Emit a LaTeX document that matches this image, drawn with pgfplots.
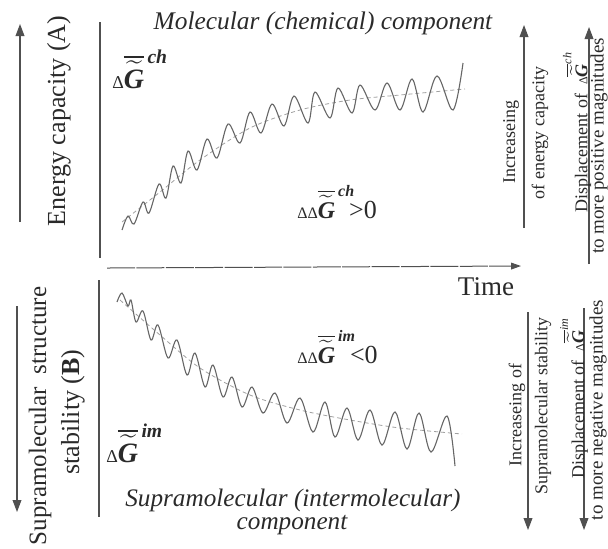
\documentclass[border=0pt]{standalone}
\usepackage{amsmath}
\usepackage{fontspec}
\setmainfont{Liberation Serif}
\usepackage{pgfplots}
\pgfplotsset{compat=1.18}
\usetikzlibrary{arrows.meta}
\definecolor{ink}{HTML}{2A2A2A}
\definecolor{crv}{HTML}{666666}
\definecolor{dsh}{HTML}{A0A0A0}
\definecolor{lin}{HTML}{505050}
\newcommand{\Gt}{\overline{\widetilde{\text{\bfseries\itshape G}}}}
\newcommand{\fs}[1]{\fontsize{#1}{#1}\selectfont}
\tikzset{arr/.style={lin, line width=0.55pt, -{Triangle[length=6pt,width=4.4pt]}}}
\begin{document}
\begin{tikzpicture}
\begin{axis}[name=ax, scale only axis, width=304pt, height=274pt,
  xmin=0, xmax=608, ymin=0, ymax=548, y dir=reverse, hide axis, clip=false]
% frame lines
\addplot[lin, line width=0.55pt] coordinates {(100,22) (100,258)};
\addplot[lin, line width=0.55pt] coordinates {(99,280) (99,517)};
\addplot[lin, line width=0.5pt, dash pattern=on 14pt off 0.7pt, -{Triangle[length=5pt,width=3.4pt]}] coordinates {(107,268) (521,266)};
% arrows
\addplot[arr] coordinates {(20,222) (20,24)};
\addplot[arr] coordinates {(17,306) (17,512)};
\addplot[arr] coordinates {(524,228) (524,25)};
\addplot[arr] coordinates {(589,264) (589,27)};
\addplot[arr] coordinates {(528,312) (528,530)};
\addplot[arr] coordinates {(584,308) (584,530)};
% upper dashed trend
\addplot[dsh, line width=0.4pt, dash pattern=on 2pt off 1.5pt, smooth] coordinates {
(122,222) (160,192) (200,160) (250,128) (300,110) (350,100) (400,95) (465,89)};
% upper oscillating curve
\addplot[crv, line width=0.55pt, smooth, tension=0.55] coordinates {
(122,230) (128,216) (134,224) (143,202) (149,213) (159,184) (166,198) (173,166)
(181,183) (188,151) (197,170) (207,139) (217,158) (228,124) (240,143) (250,112)
(261,133) (272,104) (284,126) (294,96) (308,123) (315,92) (330,118) (338,88)
(352,113) (360,85) (375,110) (387,83) (400,110) (412,79) (423,112) (437,76)
(453,110) (463,63)};
% lower dashed trend
\addplot[dsh, line width=0.4pt, dash pattern=on 2pt off 1.5pt, smooth] coordinates {
(120,300) (160,335) (200,368) (250,395) (300,410) (350,420) (400,428) (462,434)};
% lower oscillating curve
\addplot[crv, line width=0.55pt, smooth, tension=0.55] coordinates {
(117,302) (122,293) (128,306) (131,300) (136,322) (143,311) (151,340) (158,325)
(168,358) (177,340) (187,375) (195,353) (205,387) (213,365) (223,397) (232,377)
(242,407) (252,387) (263,413) (275,393) (287,423) (300,398) (313,432) (325,402)
(335,437) (347,408) (358,440) (370,410) (382,445) (395,412) (407,449) (419,413)
(431,452) (447,416) (455,466)};
% texts
\node[text=ink, font=\fs{12.7}\itshape] at (axis cs:323,23) {Molecular (chemical) component};
\node[text=ink, font=\fs{12.6}\itshape] at (axis cs:293,500) {Supramolecular (intermolecular)};
\node[text=ink, font=\fs{12.6}\itshape] at (axis cs:292,525) {component};
\node[text=ink, font=\fs{13.5}] at (axis cs:486,287) {Time};
\node[text=ink, rotate=90, font=\fs{13}] at (axis cs:59,121) {Energy capacity (A)};
\node[text=ink, rotate=90, font=\fs{12.5}] at (axis cs:40,416) {Supramolecular\ \ structure};
\node[text=ink, rotate=90, font=\fs{13}] at (axis cs:73,412) {stability (\textbf{B})};
% Delta G labels
\node[text=ink, anchor=base west, inner sep=0pt] at (axis cs:112,88)
  {{\fs{9}Δ}{\fs{14}$\Gt^{\,\text{\bfseries\itshape ch}}$}};
\node[text=ink, anchor=base west, inner sep=0pt] at (axis cs:106,462)
  {{\fs{9}Δ}{\fs{14}$\Gt^{\,\text{\bfseries\itshape im}}$}};
\node[text=ink, anchor=base west, inner sep=0pt] at (axis cs:297,218)
  {{\fs{8}ΔΔ}{\fs{12}$\Gt^{\,\text{\bfseries\itshape ch}}$}{\fs{13}\kern-3pt>0}};
\node[text=ink, anchor=base west, inner sep=0pt] at (axis cs:297,363)
  {{\fs{8}ΔΔ}{\fs{12}$\Gt^{\,\text{\bfseries\itshape im}}$}{\fs{13}\kern-3pt<0}};
% right side texts
\node[text=ink, rotate=90, font=\fs{9}] at (axis cs:511,142) {Increaseing};
\node[text=ink, rotate=90, font=\fs{9}] at (axis cs:540,133) {of energy capacity};
\node[text=ink, rotate=90, font=\fs{9}] at (axis cs:577,132) {Displacement of\ \ {\fs{6}Δ}$\Gt^{\text{\itshape ch}}$};
\node[text=ink, rotate=90, font=\fs{9.5}] at (axis cs:599,146) {to more positive magnitudes};
\node[text=ink, rotate=90, font=\fs{9}] at (axis cs:517,415) {Increaseing of};
\node[text=ink, rotate=90, font=\fs{9}] at (axis cs:543,406) {Supramolecular stability};
\node[text=ink, rotate=90, font=\fs{9}] at (axis cs:574,398) {Displacement of\ \ {\fs{6}Δ}$\Gt^{\text{\itshape im}}$};
\node[text=ink, rotate=90, font=\fs{9.5}] at (axis cs:598,410) {to more negative magnitudes};
\end{axis}
\pgfresetboundingbox
\useasboundingbox (ax.south west) rectangle (ax.north east);
\end{tikzpicture}
\end{document}
